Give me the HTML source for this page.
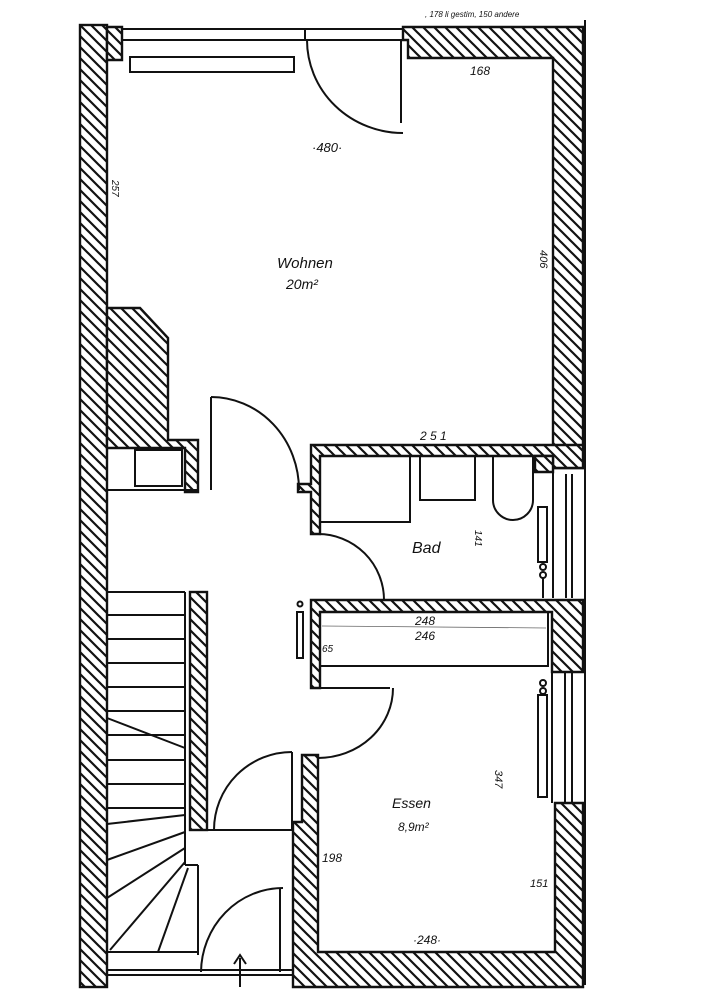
<!DOCTYPE html>
<html><head><meta charset="utf-8"><style>
html,body{margin:0;padding:0;background:#fff;}
svg{display:block;}
text{font-family:"Liberation Sans",sans-serif;font-style:italic;fill:#111;}
</style></head><body>
<svg width="706" height="1000" viewBox="0 0 706 1000" xmlns="http://www.w3.org/2000/svg">
<defs>
<pattern id="h" patternUnits="userSpaceOnUse" width="11" height="11">
<rect width="11" height="11" fill="#fff"/>
<path d="M0,0 L11,11 M-5.5,5.5 L5.5,16.5 M5.5,-5.5 L16.5,5.5" stroke="#111" stroke-width="2.2"/>
</pattern>
</defs>
<g stroke="#111" stroke-width="2.4" fill="url(#h)">
<rect x="80" y="25" width="27" height="962"/>
<polygon points="107,27 122,27 122,60 107,60"/>
<polygon points="403,27 583,27 583,468 553,468 553,58 408,58 408,40 403,40"/>
<polygon points="107,308 140,308 168,338 168,440 198,440 198,492 185,492 185,448 107,448"/>
<polygon points="311,445 583,445 583,468 553,468 553,456 320,456 320,534 311,534 311,492 298,492 298,484 311,484"/>
<polygon points="535,456 553,456 553,472 535,472"/>
<polygon points="311,600 583,600 583,672 552,672 552,612 320,612 320,688 311,688"/>
<rect x="190" y="592" width="17" height="238"/>
<polygon points="302,755 318,755 318,952 555,952 555,803 583,803 583,987 293,987 293,822 302,822"/>
</g>
<g stroke="#111" stroke-width="2" fill="none">
<line x1="122" y1="29" x2="403" y2="29"/>
<line x1="122" y1="40" x2="403" y2="40"/>
<line x1="305" y1="29" x2="305" y2="40"/>
<rect x="130" y="57" width="164" height="15"/>
<line x1="401" y1="40" x2="401" y2="123"/>
<path d="M307,40 A96,93 0 0 0 403,133"/>
<line x1="585" y1="20" x2="585" y2="985"/>
<rect x="135" y="450" width="47" height="36"/>
<line x1="107" y1="490" x2="198" y2="490"/>
<line x1="211" y1="397" x2="211" y2="490"/>
<path d="M211,397 A88,93 0 0 1 299,490"/>
<rect x="320" y="456" width="90" height="66"/>
<rect x="420" y="456" width="55" height="44"/>
<path d="M493,456 L493,500 A20,20 0 0 0 533,500 L533,456"/>
<rect x="538" y="507" width="9" height="55"/>
<circle cx="543" cy="567" r="3"/><circle cx="543" cy="575" r="3"/>
<line x1="543" y1="578" x2="543" y2="598"/>
<line x1="553" y1="472" x2="553" y2="598"/>
<line x1="566" y1="474" x2="566" y2="598"/>
<line x1="572" y1="474" x2="572" y2="598"/>
<path d="M318,534 A66,66 0 0 1 384,600"/>
<rect x="320" y="612" width="228" height="54"/>
<rect x="297" y="612" width="6" height="46"/>
<circle cx="300" cy="604" r="2.5"/>
<line x1="318" y1="688" x2="390" y2="688"/>
<path d="M393,688 A75,70 0 0 1 318,758"/>
<rect x="538" y="695" width="9" height="102"/>
<circle cx="543" cy="683" r="3"/><circle cx="543" cy="691" r="3"/>
<line x1="552" y1="672" x2="552" y2="803"/>
<line x1="565" y1="672" x2="565" y2="803"/>
<line x1="572" y1="672" x2="572" y2="803"/>
<line x1="185" y1="592" x2="185" y2="865"/>
<line x1="185" y1="865" x2="198" y2="865"/>
<line x1="198" y1="865" x2="198" y2="955"/>
<line x1="107" y1="592" x2="185" y2="592"/>
<line x1="107" y1="615" x2="185" y2="615"/>
<line x1="107" y1="639" x2="185" y2="639"/>
<line x1="107" y1="663" x2="185" y2="663"/>
<line x1="107" y1="687" x2="185" y2="687"/>
<line x1="107" y1="711" x2="185" y2="711"/>
<line x1="107" y1="735" x2="185" y2="735"/>
<line x1="107" y1="718" x2="185" y2="748"/>
<line x1="107" y1="760" x2="185" y2="760"/>
<line x1="107" y1="784" x2="185" y2="784"/>
<line x1="107" y1="808" x2="185" y2="808"/>
<line x1="107" y1="824" x2="185" y2="815"/>
<line x1="107" y1="860" x2="185" y2="832"/>
<line x1="107" y1="898" x2="185" y2="848"/>
<line x1="110" y1="950" x2="185" y2="862"/>
<line x1="158" y1="952" x2="188" y2="868"/>
<line x1="107" y1="952" x2="198" y2="952"/>
<line x1="107" y1="970" x2="293" y2="970"/>
<line x1="107" y1="975" x2="293" y2="975"/>
<line x1="190" y1="830" x2="293" y2="830"/>
<line x1="292" y1="752" x2="292" y2="830"/>
<path d="M292,752 A78,78 0 0 0 214,830"/>
<line x1="280" y1="888" x2="280" y2="972"/>
<path d="M283,888 A82,85 0 0 0 201,972"/>
<line x1="240" y1="987" x2="240" y2="958"/>
<path d="M234,964 L240,955 L246,964"/>
<line x1="322" y1="626" x2="546" y2="628" stroke-width="0.8" stroke="#666"/>
</g>
<text x="312" y="152" font-size="13">·480·</text>
<text x="470" y="75" font-size="12">168</text>
<text x="277" y="268" font-size="15">Wohnen</text>
<text x="286" y="289" font-size="14">20m²</text>
<text x="420" y="440" font-size="12">2 5 1</text>
<text x="412" y="553" font-size="16">Bad</text>
<text x="415" y="625" font-size="12">248</text>
<text x="415" y="640" font-size="12">246</text>
<text x="322" y="652" font-size="10">65</text>
<text x="392" y="808" font-size="14">Essen</text>
<text x="398" y="831" font-size="12">8,9m²</text>
<text x="322" y="862" font-size="12">198</text>
<text x="530" y="887" font-size="11">151</text>
<text x="413" y="944" font-size="12">·248·</text>
<text transform="translate(112,180) rotate(90)" font-size="10">257</text>
<text transform="translate(540,250) rotate(90)" font-size="11">406</text>
<text transform="translate(495,770) rotate(90)" font-size="11">347</text>
<text transform="translate(475,530) rotate(90)" font-size="10">141</text>
<text x="425" y="17" font-size="8" fill="#555">, 178 li gestim, 150 andere</text>
</svg>
</body></html>
